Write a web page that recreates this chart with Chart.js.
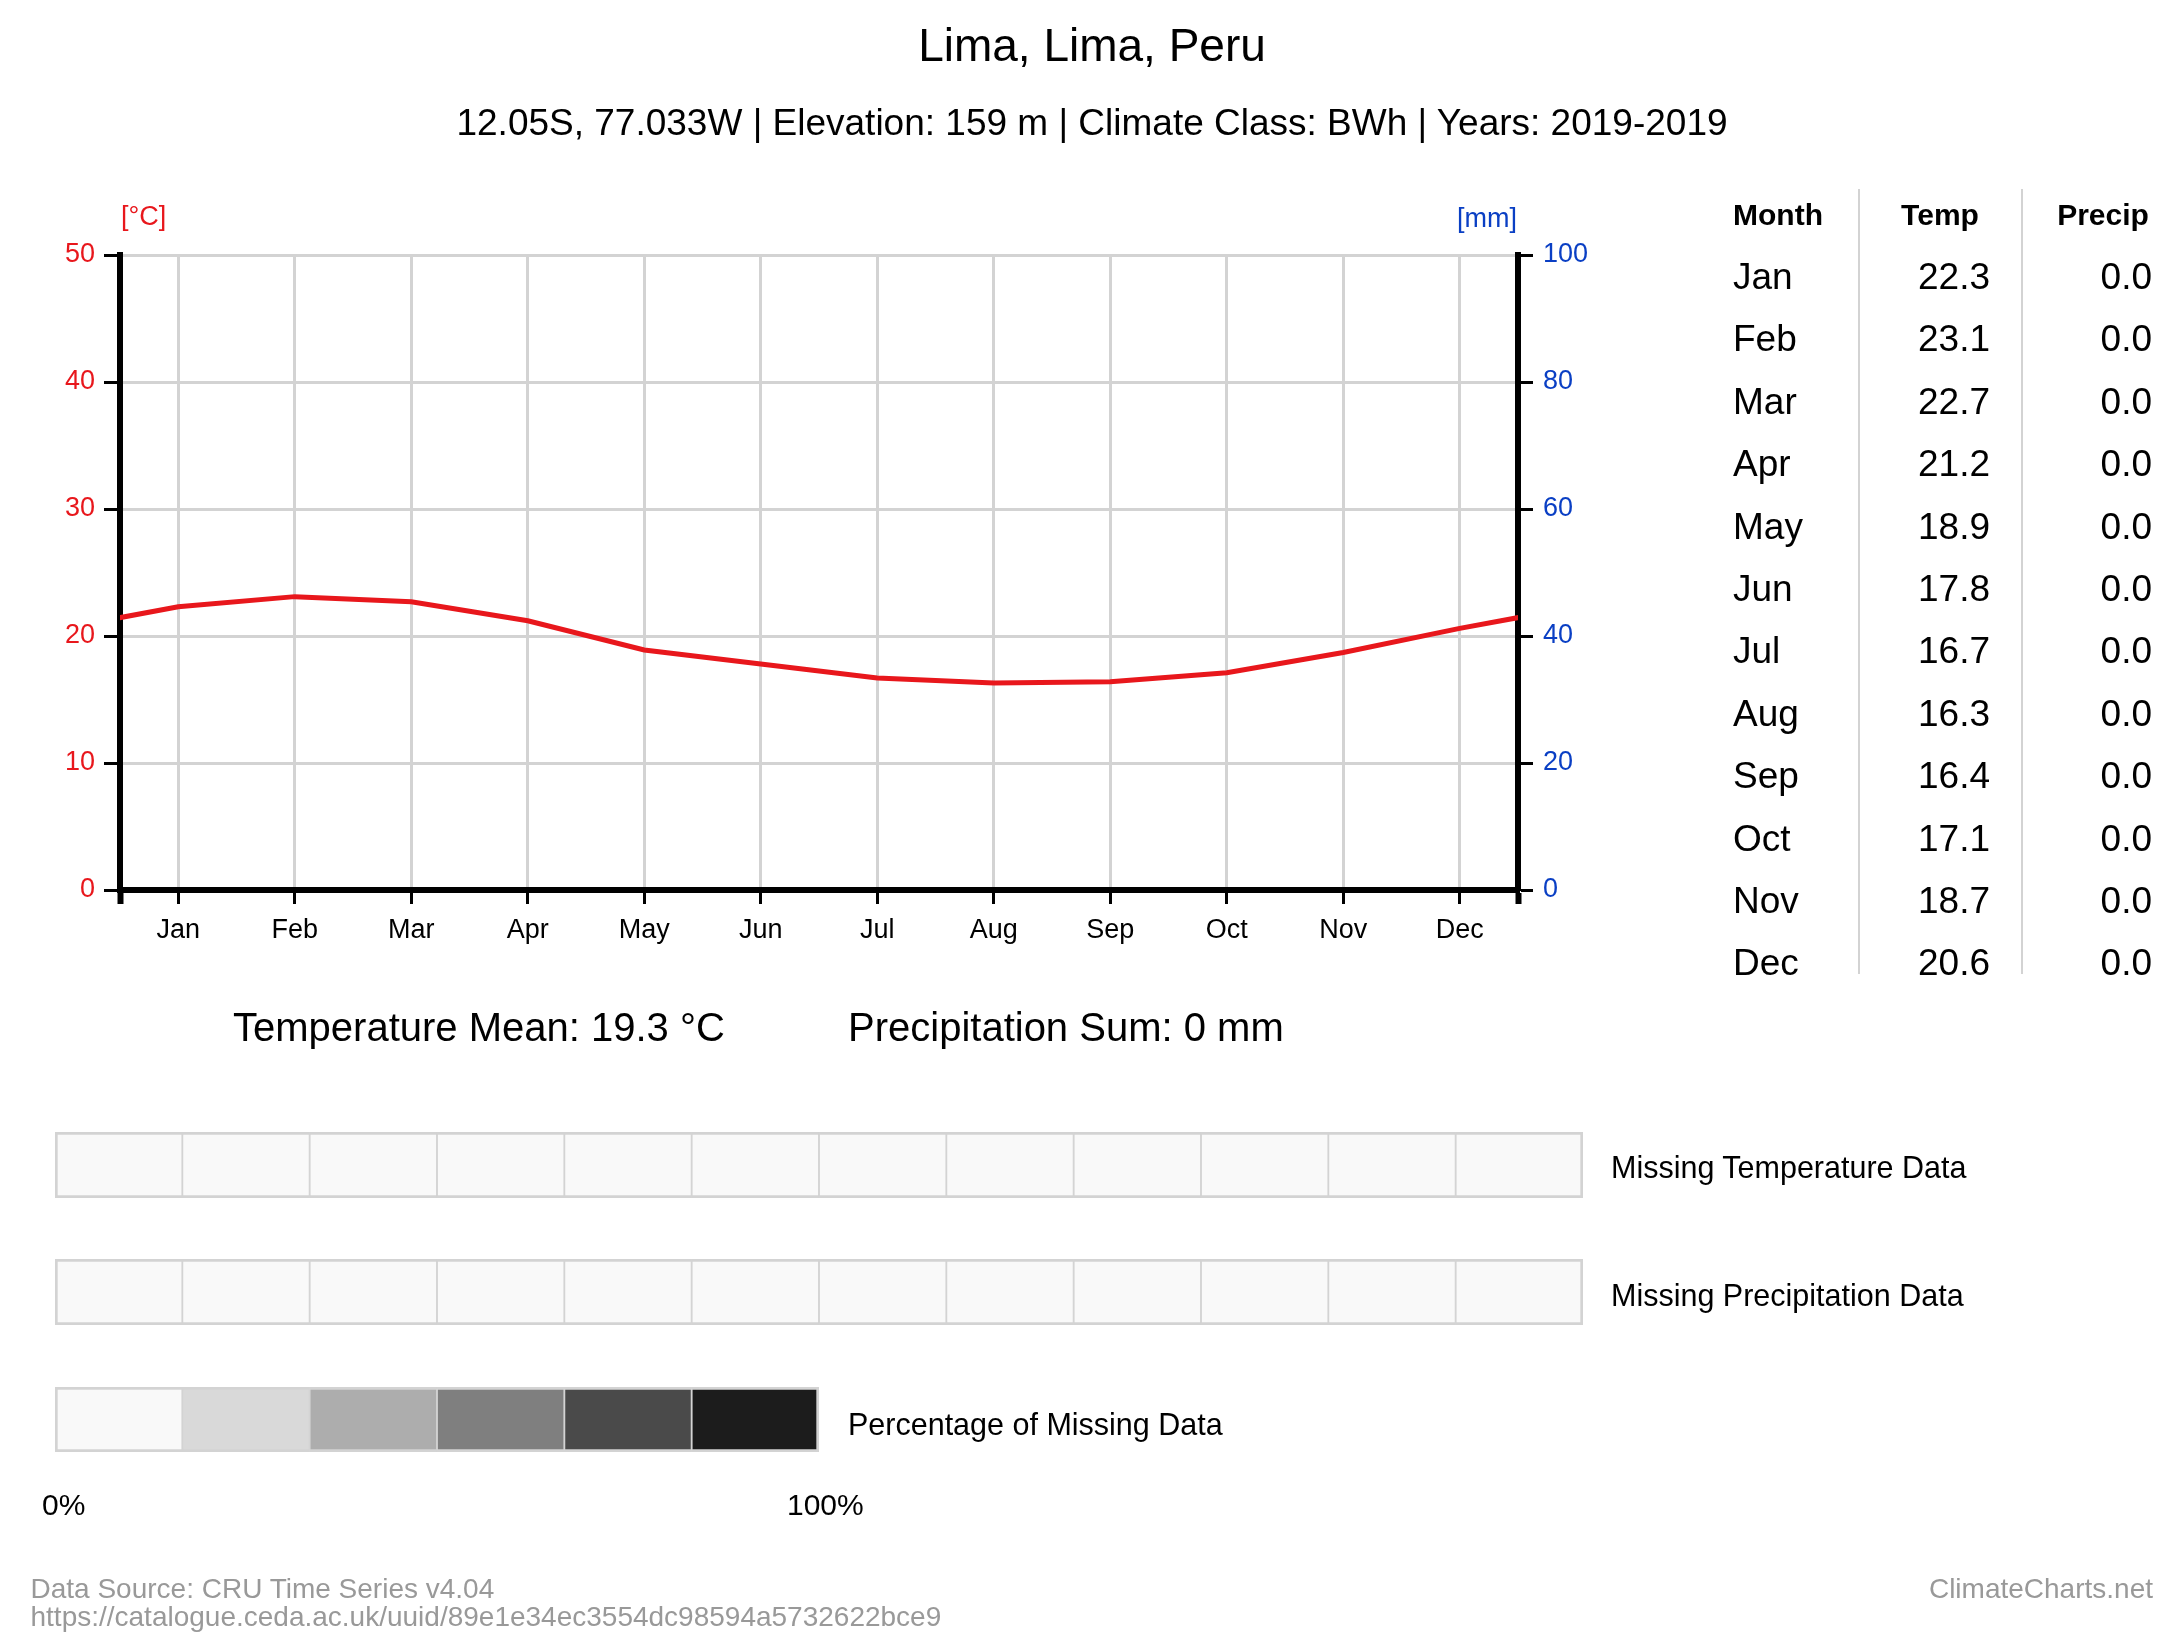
<!DOCTYPE html>
<html>
<head>
<meta charset="utf-8">
<script src="https://cdn.jsdelivr.net/npm/chart.js@4.4.0/dist/chart.umd.min.js"></script>
<style>
html,body{margin:0;padding:0;background:#fff;}
body{width:2184px;height:1643px;position:relative;overflow:hidden;font-family:"Liberation Sans",Arial,Helvetica,sans-serif;color:#000;}
.t{position:absolute;white-space:nowrap;line-height:1;}
canvas{position:absolute;}
.div{position:absolute;width:2px;background:#d3d3d3;}
</style>
</head>
<body>
<canvas id="main" width="2184" height="1643" style="left:0;top:0;"></canvas>
<canvas id="stripT" width="1528" height="66" style="left:55px;top:1132px;"></canvas>
<canvas id="stripP" width="1528" height="66" style="left:55px;top:1259px;"></canvas>
<canvas id="stripL" width="764" height="65" style="left:55px;top:1387px;"></canvas>
<div id="texts"></div>
<script>
// ---------- data ----------
const titleText = 'Lima, Lima, Peru';
const subtitleText = '12.05S, 77.033W | Elevation: 159 m | Climate Class: BWh | Years: 2019-2019';
const months = ['Jan','Feb','Mar','Apr','May','Jun','Jul','Aug','Sep','Oct','Nov','Dec'];
const tempValues = [22.3, 23.1, 22.7, 21.2, 18.9, 17.8, 16.7, 16.3, 16.4, 17.1, 18.7, 20.6];
const precipValues = [0.0, 0.0, 0.0, 0.0, 0.0, 0.0, 0.0, 0.0, 0.0, 0.0, 0.0, 0.0];
const tempTicks = [0, 10, 20, 30, 40, 50];
const precipTicks = [0, 20, 40, 60, 80, 100];
const tempMean = 19.3;
const precipSum = 0;
const missingTemp = [0, 0, 0, 0, 0, 0, 0, 0, 0, 0, 0, 0];
const missingPrecip = [0, 0, 0, 0, 0, 0, 0, 0, 0, 0, 0, 0];
const missingSteps = [0, 20, 40, 60, 80, 100];
const missingColors = ['#f9f9f9', '#d9d9d9', '#adadad', '#7f7f7f', '#4a4a4a', '#1c1c1c'];

// ---------- styles ----------
const RED = '#e8171c';
const BLUE = '#0a3fc4';
const GRID = '#d3d3d3';
Chart.defaults.font.family = '"Liberation Sans", Arial, Helvetica, sans-serif';

// ---------- main chart ----------
const tempPoints = [{x: -0.5, y: tempValues[11]}]
  .concat(tempValues.map((v, i) => ({x: i + 0.5, y: v})))
  .concat([{x: 12.5, y: tempValues[0]}]);
const precipPoints = precipValues.map((v, i) => ({x: i + 0.5, y: v}));
const isEdge = c => c.tick && (c.tick.value === 0 || c.tick.value === 12);

new Chart(document.getElementById('main'), {
  type: 'line',
  data: {
    datasets: [
      {type: 'line', label: 'Temperature', data: tempPoints, xAxisID: 'x', yAxisID: 'yT',
       borderColor: RED, borderWidth: 5, pointRadius: 0, tension: 0, clip: 0, order: 0},
      {type: 'bar', label: 'Precipitation', data: precipPoints, xAxisID: 'x', yAxisID: 'yP',
       backgroundColor: BLUE, borderWidth: 0, order: 1}
    ]
  },
  options: {
    responsive: false, animation: false, events: [],
    layout: {padding: {left: 0, top: 255, right: 566, bottom: 693}},
    plugins: {legend: {display: false}, tooltip: {enabled: false}},
    scales: {
      x: {
        type: 'linear', position: 'bottom', min: 0, max: 12, offset: false,
        afterBuildTicks: s => { s.ticks = [{value: 0}].concat(months.map((m, i) => ({value: i + 0.5}))).concat([{value: 12}]); },
        afterFit: s => { s.height = 60; },
        ticks: {autoSkip: false, maxRotation: 0, minRotation: 0, padding: 10, color: '#000', font: {size: 27},
                callback: v => (v > 0 && v < 12) ? months[Math.floor(v)] : ''},
        grid: {offset: false, color: c => isEdge(c) ? 'rgba(0,0,0,0)' : GRID, lineWidth: 3, tickColor: '#000',
               tickWidth: c => isEdge(c) ? 6 : 3, tickLength: 14},
        border: {color: '#000', width: 6}
      },
      yT: {
        type: 'linear', position: 'left', min: 0, max: 50,
        afterBuildTicks: s => { s.ticks = tempTicks.map(v => ({value: v})); },
        afterFit: s => { s.width = 120; },
        ticks: {color: RED, font: {size: 27}, padding: 9},
        grid: {color: GRID, lineWidth: 3, tickColor: '#000', tickWidth: 3, tickLength: 16},
        border: {color: '#000', width: 6}
      },
      yP: {
        type: 'linear', position: 'right', min: 0, max: 100,
        afterBuildTicks: s => { s.ticks = precipTicks.map(v => ({value: v})); },
        afterFit: s => { s.width = 100; },
        ticks: {color: BLUE, font: {size: 27}, padding: 10},
        grid: {drawOnChartArea: false, tickColor: '#000', tickWidth: 3, tickLength: 15},
        border: {color: '#000', width: 6}
      }
    }
  }
});

// ---------- missing data strips ----------
function colorFor(v) {
  let idx = missingSteps.findIndex(s => v <= s);
  if (idx < 0) idx = missingSteps.length - 1;
  return missingColors[idx];
}
function makeStrip(id, labels, colors) {
  const n = labels.length;
  new Chart(document.getElementById(id), {
    type: 'bar',
    data: {labels: labels, datasets: [{
      data: labels.map(() => 1),
      backgroundColor: colors,
      borderColor: GRID,
      borderWidth: c => ({top: 3, bottom: 3, left: c.dataIndex === 0 ? 3 : 1.25, right: c.dataIndex === n - 1 ? 3 : 1.25}),
      borderSkipped: false, categoryPercentage: 1, barPercentage: 1
    }]},
    options: {
      responsive: false, animation: false, events: [],
      layout: {padding: 0},
      plugins: {legend: {display: false}, tooltip: {enabled: false}},
      scales: {x: {display: false}, y: {display: false, min: 0, max: 1}}
    }
  });
}
makeStrip('stripT', months, missingTemp.map(colorFor));
makeStrip('stripP', months, missingPrecip.map(colorFor));
makeStrip('stripL', missingSteps.map(s => s + '%'), missingSteps.map(colorFor));

// ---------- text ----------
const box = document.getElementById('texts');
function txt(s, o) {
  const d = document.createElement('div');
  d.className = 't';
  d.textContent = s;
  const size = o.size;
  d.style.fontSize = size + 'px';
  d.style.top = (o.cy - 0.4885 * size) + 'px';
  if (o.bold) d.style.fontWeight = 'bold';
  if (o.color) d.style.color = o.color;
  if (o.align === 'right') { d.style.right = (2184 - o.x) + 'px'; }
  else if (o.align === 'center') { d.style.left = o.x + 'px'; d.style.transform = 'translateX(-50%)'; }
  else { d.style.left = o.x + 'px'; }
  box.appendChild(d);
}
txt(titleText, {x: 1092, cy: 44, size: 46, align: 'center'});
txt(subtitleText, {x: 1092, cy: 122.5, size: 37, align: 'center'});
txt('[°C]', {x: 121, cy: 216.5, size: 27, color: RED});
txt('[mm]', {x: 1517, cy: 218, size: 27, color: BLUE, align: 'right'});

// table
txt('Month', {x: 1733, cy: 215, size: 30, bold: true});
txt('Temp', {x: 1940, cy: 215, size: 30, bold: true, align: 'center'});
txt('Precip', {x: 2103, cy: 215, size: 30, bold: true, align: 'center'});
months.forEach((m, i) => {
  const cy = 276 + 62.4 * i;
  txt(m, {x: 1733, cy: cy, size: 37});
  txt(tempValues[i].toFixed(1), {x: 1990, cy: cy, size: 37, align: 'right'});
  txt(precipValues[i].toFixed(1), {x: 2152, cy: cy, size: 37, align: 'right'});
});
[1858, 2020.5].forEach(x => {
  const d = document.createElement('div');
  d.className = 'div';
  d.style.left = x + 'px'; d.style.top = '189px'; d.style.height = '785px';
  box.appendChild(d);
});

// summary
txt('Temperature Mean: ' + tempMean.toFixed(1) + ' °C', {x: 233, cy: 1027, size: 40});
txt('Precipitation Sum: ' + precipSum + ' mm', {x: 848, cy: 1027, size: 40});

// strip labels
txt('Missing Temperature Data', {x: 1611, cy: 1167, size: 30.5});
txt('Missing Precipitation Data', {x: 1611, cy: 1295, size: 30.5});
txt('Percentage of Missing Data', {x: 848, cy: 1423.5, size: 30.5});
txt('0%', {x: 42, cy: 1505, size: 30});
txt('100%', {x: 787, cy: 1505, size: 30});

// footer
txt('Data Source: CRU Time Series v4.04', {x: 30.5, cy: 1589, size: 28, color: '#999'});
txt('https://catalogue.ceda.ac.uk/uuid/89e1e34ec3554dc98594a5732622bce9', {x: 30.5, cy: 1617, size: 28, color: '#999'});
txt('ClimateCharts.net', {x: 2153, cy: 1589, size: 28, color: '#999', align: 'right'});
</script>
</body>
</html>
